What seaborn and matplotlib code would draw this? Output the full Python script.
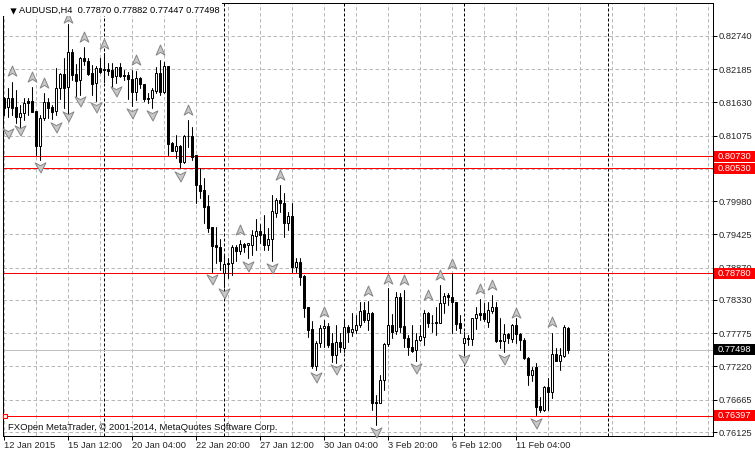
import pandas as pd
import matplotlib.pyplot as plt
import seaborn as sns
from matplotlib.path import Path
from matplotlib.patches import Rectangle
from matplotlib.transforms import blended_transform_factory

# H4 bars
open_prices = [
    .81698, .81547, .81698, .81547, .81380, .81447, .81653, .81653, .81486, .80907,
    .81364, .81631, .81559, .81486, .81865, .82104, .81881, .82477, .82104, .82004,
    .82366, .82327, .82115, .81948, .82199, .82188, .82182, .82171, .82071, .82215,
    .82087, .82087, .82021, .81809, .82032, .81937, .81709, .81698, .81826, .82115,
    .81809, .82238, .80946, .80824, .80902, .80640, .81074, .81068, .80751, .80250,
    .80167, .79900, .79543, .79248, .79209, .78775, .78942, .78942, .79209, .79154,
    .79260, .79243, .79248, .79404, .79482, .79432, .79248, .79343, .79788, .80000,
    .79944, .79621, .79733, .78875, .78959, .78731, .78219, .77846, .77233, .77606,
    .77857, .77901, .77617, .77411, .77623, .77523, .77873, .77801, .77829, .77907,
    .78163, .77996, .78118, .76621, .76604, .76994, .77590, .77912, .77818, .78375,
    .77896, .77690, .77539, .77495, .77662, .77718, .78107, .77951, .77962, .77951,
    .78274, .78413, .78374, .78302, .77940, .77617, .77701, .77673, .78024, .78107,
    .78107, .77968, .78152, .78207, .77662, .77651, .77762, .77673, .77912, .77762,
    .77662, .77356, .77077, .77217, .76560, .76493, .76883, .76799, .77422, .77317,
    .77395, .77870,
]
high_prices = [
    .81725, .81865, .81976, .81837, .81586, .81698, .81709, .81881, .81486, .81419,
    .81781, .81698, .81586, .82199, .82115, .82366, .82939, .82516, .82271, .82394,
    .82561, .82366, .82254, .82238, .82366, .82449, .82293, .82282, .82227, .82282,
    .82171, .82143, .82171, .82154, .82048, .81937, .81781, .81865, .82227, .82338,
    .82310, .82238, .80966, .81085, .80919, .81085, .81336, .81225, .80751, .80529,
    .80362, .80083, .79555, .79543, .79343, .79081, .79026, .79248, .79248, .79332,
    .79276, .79287, .79499, .79677, .79599, .79749, .79527, .80083, .80028, .80250,
    .80111, .79805, .79944, .79026, .79037, .78748, .78219, .77985, .77645, .77912,
    .77996, .77940, .77784, .77912, .77784, .77996, .77912, .78118, .78079, .78291,
    .78302, .78319, .78135, .76743, .77077, .77606, .78525, .78091, .78469, .78441,
    .78497, .77745, .77912, .77773, .77912, .78163, .78135, .78079, .78219, .78580,
    .78441, .78441, .78775, .78302, .78079, .77801, .77745, .78024, .78219, .78341,
    .78274, .78302, .78413, .78302, .78024, .77929, .77773, .77929, .78024, .77773,
    .77690, .77384, .77217, .77272, .76716, .76894, .77022, .77784, .77534, .77523,
    .77912, .77882,
]
low_prices = [
    .81419, .81392, .81419, .81291, .81225, .81336, .81419, .81475, .80751, .80668,
    .81336, .81364, .81353, .81419, .81687, .81531, .81419, .82004, .81742, .81753,
    .82254, .82087, .81753, .81653, .82115, .81976, .82087, .81893, .81948, .82048,
    .82004, .81681, .81570, .81670, .81865, .81653, .81614, .81531, .81781, .81753,
    .81781, .80751, .80810, .80696, .80529, .80612, .80890, .80668, .79944, .80028,
    .79610, .79471, .78803, .78942, .78831, .78552, .78703, .78747, .78981, .79098,
    .79137, .79037, .79081, .79165, .79276, .79165, .79165, .78987, .79722, .79805,
    .79388, .79499, .78803, .78803, .78580, .78052, .77718, .77189, .77161, .77551,
    .77551, .77539, .77300, .77272, .77467, .77467, .77634, .77729, .77784, .77885,
    .77968, .77829, .76493, .76242, .76604, .76827, .77562, .77690, .77762, .77801,
    .77539, .77411, .77467, .77317, .77651, .77578, .77885, .77801, .77745, .77940,
    .78107, .78246, .77773, .77829, .77773, .77439, .77578, .77578, .77840, .77996,
    .77985, .77885, .78107, .77634, .77523, .77467, .77606, .77634, .77606, .77495,
    .77339, .76910, .76983, .76409, .76465, .76476, .76493, .76688, .77311, .77161,
    .77384, .77447,
]
close_prices = [
    .81531, .81698, .81531, .81380, .81447, .81614, .81614, .81475, .80907, .81364,
    .81631, .81542, .81475, .81865, .82104, .81865, .82466, .82087, .81993, .82366,
    .82321, .82104, .81937, .82199, .82132, .82176, .82160, .82060, .82215, .82071,
    .82076, .82021, .81809, .82032, .81937, .81687, .81687, .81837, .82115, .81809,
    .82238, .80935, .80824, .80902, .80640, .81074, .81062, .80724, .80250, .80156,
    .79889, .79538, .79237, .79209, .78981, .78926, .78926, .79209, .79154, .79260,
    .79221, .79276, .79415, .79482, .79415, .79248, .79343, .79816, .80000, .79944,
    .79621, .79733, .78875, .78959, .78720, .78202, .77829, .77228, .77606, .77857,
    .77896, .77578, .77411, .77623, .77551, .77873, .77801, .77840, .77907, .78152,
    .77996, .78118, .76615, .76604, .76994, .77590, .77912, .77801, .78375, .77885,
    .77690, .77539, .77484, .77662, .77729, .78118, .77940, .77940, .77940, .78274,
    .78397, .78386, .78291, .77929, .77868, .77690, .77673, .78024, .78091, .78079,
    .78007, .78163, .78207, .77651, .77651, .77757, .77690, .77912, .77757, .77662,
    .77356, .77077, .77161, .76549, .76493, .76883, .76799, .77422, .77317, .77411,
    .77885, .77498,
]

# fractal arrows: bar number and price
up_bars = [2, 7, 10, 16, 20, 25, 33, 39, 46, 59, 69, 80, 91, 96, 100, 106, 109, 112, 119, 122, 128, 137]
up_prices = [.82154, .82054, .81954, .83039, .82722, .82605, .82338, .82505, .81503, .79499, .80417,
             .78130, .78480, .78681, .78664, .78414, .78748, .78931, .78514, .78581, .78113, .77963]
down_bars = [1, 4, 9, 13, 16, 19, 23, 28, 32, 37, 44, 52, 55, 61, 67, 78, 83, 93, 103, 115, 125, 133]
down_prices = [.81119, .81169, .80551, .81219, .81403, .81653, .81553, .81820, .81453, .81420, .80401,
               .78681, .78447, .78898, .78864, .77044, .77178, .76126, .77194, .77345, .77345, .76276]

red_levels = [0.80730, 0.80530, 0.78780, 0.76397]
bid_price = 0.77498
period_bars = [25, 55, 85, 115, 151]

price_ticks = [0.82740, 0.82185, 0.81630, 0.81075, 0.80520, 0.79980, 0.79425,
               0.78870, 0.78330, 0.77775, 0.77220, 0.76665, 0.76125]
price_labels = ['0.82740', '0.82185', '0.81630', '0.81075', '0.80520', '0.79980', '0.79425',
                '0.78870', '0.78330', '0.77775', '0.77220', '0.76665', '0.76125']
date_ticks = [0, 16, 32, 48, 64, 80, 96, 112, 128]
date_labels = ['12 Jan 2015', '15 Jan 12:00', '20 Jan 04:00', '22 Jan 20:00', '27 Jan 12:00',
               '30 Jan 04:00', '3 Feb 20:00', '6 Feb 12:00', '11 Feb 04:00']

W, H = 755, 453
GRID = '#b8b8b8'
ARROW_UP = Path([(0, 1), (0.8, -0.85), (0, -0.35), (-0.8, -0.85), (0, 1)], closed=True)
ARROW_DOWN = Path([(-1, 0.85), (0, 0.35), (1, 0.85), (0.1, -1), (-1, 0.85)], closed=True)

sns.set_style('white')
plt.rcParams['font.family'] = ['Liberation Sans', 'DejaVu Sans']
plt.rcParams['font.size'] = 6.7

fig = plt.figure(figsize=(W / 100, H / 100), dpi=100)
ax = fig.add_axes([2.5 / W, 1 - 435.5 / H, 710 / W, 433 / H])

bars = pd.DataFrame({'bar': range(len(open_prices)), 'open': open_prices, 'high': high_prices,
                     'low': low_prices, 'close': close_prices})
wicks = bars.melt(id_vars='bar', value_vars=['low', 'high'], value_name='price')
sns.lineplot(data=wicks, x='bar', y='price', units='bar', estimator=None, color='black',
             linewidth=0.75, legend=False, ax=ax, zorder=3)

bull = bars[bars['close'] >= bars['open']]
bear = bars[bars['close'] < bars['open']]
ax.bar(bear['bar'], bear['open'] - bear['close'], bottom=bear['close'], width=0.5,
       color='black', edgecolor='black', linewidth=0.72, zorder=4)
ax.bar(bull['bar'], bull['close'] - bull['open'], bottom=bull['open'], width=0.5,
       color='white', edgecolor='black', linewidth=0.72, zorder=4)

up = pd.DataFrame({'bar': up_bars, 'price': up_prices})
down = pd.DataFrame({'bar': down_bars, 'price': down_prices})
sns.scatterplot(data=up, x='bar', y='price', marker=ARROW_UP, s=62, color='#c8c8c8',
                edgecolor='#858585', linewidth=0.7, ax=ax, zorder=5, clip_on=False)
sns.scatterplot(data=down, x='bar', y='price', marker=ARROW_DOWN, s=62, color='#c8c8c8',
                edgecolor='#858585', linewidth=0.7, ax=ax, zorder=5, clip_on=False)

ax.set_xlim(-0.25, 177.25)
ax.set_ylim(0.76067, 0.83298)
ax.set_xlabel('')
ax.set_ylabel('')

ax.set_xticks(date_ticks)
ax.set_xticklabels(date_labels, ha='left')
ax.set_xticks(range(0, 178, 8), minor=True)
ax.yaxis.tick_right()
ax.set_yticks(price_ticks)
ax.set_yticklabels(price_labels)
ax.tick_params(axis='both', which='major', length=2.6, width=0.72, color='black', pad=1.6,
               labelsize=6.7, bottom=True, right=True)
ax.tick_params(axis='x', which='minor', length=0)
ax.grid(True, which='both', color=GRID, linewidth=0.72, linestyle=(0, (3.5, 2.5)), zorder=1)
ax.set_axisbelow(True)
for spine in ax.spines.values():
    spine.set_color('black')
    spine.set_linewidth(0.72)

for bar in period_bars:
    ax.axvline(bar, color='black', linewidth=0.72, linestyle=(0, (3, 2)), zorder=2)
for level in red_levels:
    ax.axhline(level, color='#ff0000', linewidth=0.72, zorder=2)
ax.axhline(bid_price, color='#c0c0c0', linewidth=0.72, zorder=2)

# price boxes right of the axis
box_tf = blended_transform_factory(fig.transFigure, ax.transData)
for level, face in [(l, '#ff0000') for l in red_levels] + [(bid_price, 'black')]:
    ax.add_patch(Rectangle((714 / W, level - 0.00092), 41 / W, 0.00184, transform=box_tf,
                           facecolor=face, edgecolor='none', clip_on=False, zorder=10))
    ax.text(718 / W, level, f'{level:.5f}', transform=box_tf, color='white', fontsize=6.7,
            va='center', ha='left', clip_on=False, zorder=11)

# selected line handle
ax.scatter([0.25], [red_levels[3]], marker='s', s=11, facecolor='white', edgecolor='#ff0000',
           linewidth=0.8, zorder=6, clip_on=False)

# the title strip hides whatever lies under it
ax.add_patch(Rectangle((3.2 / W, 1 - 15.5 / H), 219 / W, 12.5 / H, transform=fig.transFigure,
                       facecolor='white', edgecolor='none', clip_on=False, zorder=8))
ax.scatter([10 / 4 - 0.25], [0.83298 - 8 * 0.000167], marker='v', s=20, color='black', linewidth=0, zorder=9)
fig.text(19 / W, 1 - 10 / H, 'AUDUSD,H4  0.77870 0.77882 0.77447 0.77498', fontsize=6.7,
         color='black', va='center', ha='left', zorder=12)
fig.text(8 / W, 1 - 428 / H, 'FXOpen MetaTrader, © 2001-2014, MetaQuotes Software Corp.',
         fontsize=6.8, color='#101010', va='center', ha='left', zorder=12)

fig.savefig('out.png', dpi=100, facecolor='white')
plt.close(fig)
